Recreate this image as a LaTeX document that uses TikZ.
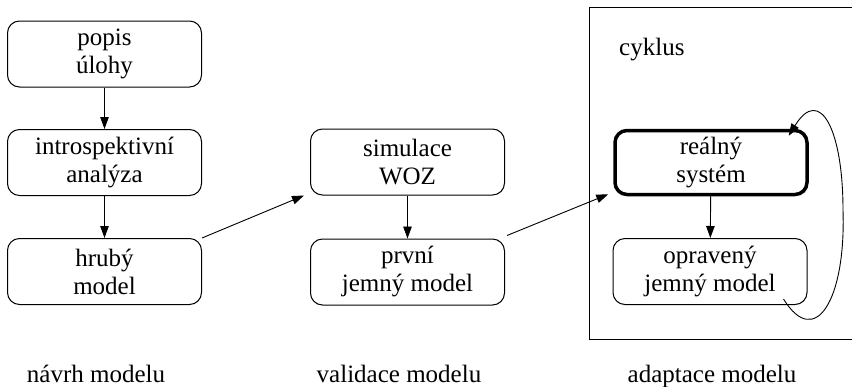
\documentclass[tikz,border=0pt]{standalone}
\usepackage{fontspec}
\newfontfamily\diafont{Liberation Serif}
\usetikzlibrary{arrows.meta}
\begin{document}
\begin{tikzpicture}[x=1pt,y=-1pt,
  txt/.style={font=\diafont\fontsize{25}{28}\selectfont},
  box/.style={txt,draw,line width=1pt,rounded corners=12pt,minimum width=194pt,
    minimum height=66pt,align=center,inner sep=0pt},
  thickbox/.style={box,line width=3.5pt,minimum width=192pt,minimum height=64pt},
  lbl/.style={txt,inner sep=0pt},
  arr/.style={line width=0.9pt,-{Triangle[length=12pt,width=8.5pt]}}]
\useasboundingbox (0,0) rectangle (852,386);

% phase frame for the adaptation cycle
\node[draw,line width=1pt,minimum width=265pt,minimum height=332pt,
      anchor=north west,inner sep=0pt] (frame) at (589,7) {};
\node[lbl,anchor=base west] (cyklus) at (619,55) {cyklus};

% design phase
\node[box] (popis) at (104.5,54) {popis\\úlohy};
\node[box] (intro) at (104.5,162.5) {introspektivní\\analýza};
\node[box] (hruby) at (104.5,271.5) {hrubý\\model};

% validation phase
\node[box] (simul) at (407.5,162) {simulace\\WOZ};
\node[box] (prvni) at (407.5,272) {první\\jemný model};

% adaptation phase
\node[thickbox] (realny) at (711,162.5) {reálný\\systém};
\node[box] (oprav) at (710,271.5) {opravený\\jemný model};

% phase captions
\node[lbl,anchor=base] (l1) at (96,382) {návrh modelu};
\node[lbl,anchor=base] (l2) at (399,382) {validace modelu};
\node[lbl,anchor=base] (l3) at (712,382) {adaptace modelu};

% connectors
\draw[arr] (popis) -- (intro);
\draw[arr] (intro) -- (hruby);
\draw[arr] (simul) -- (prvni);
\draw[arr] (realny) -- (oprav);
\draw[arr] (hruby.north east) -- ([xshift=-6pt]simul.south west);
\draw[arr] ([xshift=2pt,yshift=3pt]prvni.north east) -- ([xshift=-5pt,yshift=2pt]realny.south west);

% feedback loop
\coordinate (loopA) at ([xshift=-24pt,yshift=6pt]oprav.south east);
\coordinate (loopM) at (843,210);
\coordinate (loopB) at ([xshift=-20pt,yshift=-7pt]realny.north east);
\draw[arr] (loopA) .. controls (815,350) and (846,300) .. (loopM)
  .. controls (843,130) and (820,85) .. (loopB);
\end{tikzpicture}
\end{document}
